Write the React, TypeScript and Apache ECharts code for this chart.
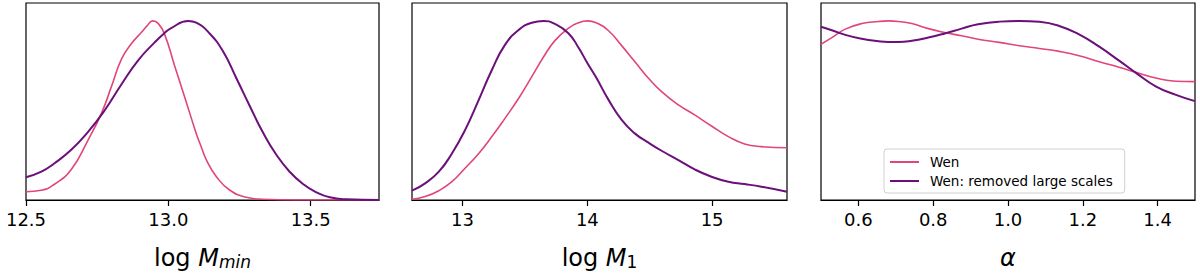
import React, { useEffect, useRef } from "react";
import * as echarts from "echarts";

// ---------- data ----------
const seriesNames = ["Wen", "Wen: removed large scales"];

// Panel 1: log M_min
const mminWenX = [12.5, 12.554, 12.6, 12.659, 12.718, 12.765, 12.8, 12.835, 12.87, 12.905, 12.925, 12.945, 12.965, 12.987, 13.022, 13.057, 13.098, 13.116, 13.134, 13.169, 13.215, 13.274, 13.33, 13.45, 13.74];
const mminWenY = [0.046, 0.054, 0.088, 0.17, 0.335, 0.484, 0.633, 0.785, 0.872, 0.935, 0.972, 1.0, 0.985, 0.925, 0.75, 0.577, 0.372, 0.295, 0.223, 0.13, 0.056, 0.015, 0.004, 0, 0];
const mminRemX = [12.5, 12.554, 12.6, 12.659, 12.718, 12.776, 12.835, 12.894, 12.952, 12.985, 13.01, 13.07, 13.098, 13.145, 13.192, 13.239, 13.286, 13.333, 13.38, 13.426, 13.473, 13.52, 13.567, 13.625, 13.74];
const mminRemY = [0.127, 0.158, 0.205, 0.28, 0.38, 0.5, 0.645, 0.78, 0.88, 0.93, 0.96, 1.0, 0.99, 0.93, 0.83, 0.68, 0.525, 0.375, 0.251, 0.158, 0.089, 0.043, 0.015, 0.004, 0];
const mminTicks = [12.5, 13.0, 13.5];

// Panel 2: log M_1
const m1X = [12.595, 12.7, 12.81, 12.915, 13.02, 13.13, 13.235, 13.34, 13.45, 13.555, 13.65, 13.74, 13.85, 13.93, 14.0, 14.07, 14.17, 14.275, 14.38, 14.49, 14.595, 14.73, 14.86, 14.995, 15.13, 15.26, 15.395, 15.6];
const m1WenY = [0.004, 0.019, 0.052, 0.102, 0.177, 0.26, 0.354, 0.456, 0.568, 0.689, 0.8, 0.89, 0.96, 0.99, 1.0, 0.99, 0.945, 0.862, 0.773, 0.68, 0.605, 0.531, 0.475, 0.413, 0.354, 0.313, 0.298, 0.292];
const m1RemY = [0.052, 0.093, 0.158, 0.26, 0.39, 0.559, 0.726, 0.866, 0.95, 0.99, 1.0, 0.983, 0.93, 0.85, 0.765, 0.685, 0.559, 0.447, 0.372, 0.32, 0.275, 0.223, 0.171, 0.13, 0.102, 0.089, 0.074, 0.046];
const m1Ticks = [13, 14, 15];

// Panel 3: alpha
const alphaX = [0.5, 0.529, 0.565, 0.609, 0.654, 0.68, 0.707, 0.743, 0.787, 0.831, 0.876, 0.92, 0.977, 1.031, 1.084, 1.137, 1.19, 1.244, 1.297, 1.342, 1.395, 1.449, 1.5];
const alphaWenY = [0.87, 0.907, 0.954, 0.985, 0.997, 1.0, 0.997, 0.985, 0.957, 0.935, 0.917, 0.898, 0.88, 0.861, 0.846, 0.83, 0.806, 0.772, 0.741, 0.713, 0.681, 0.663, 0.661];
const alphaRemY = [0.967, 0.948, 0.922, 0.9, 0.886, 0.882, 0.882, 0.889, 0.907, 0.93, 0.957, 0.981, 0.996, 1.0, 0.995, 0.972, 0.925, 0.856, 0.778, 0.71, 0.635, 0.587, 0.552];
const alphaTicks = [0.6, 0.8, 1.0, 1.2, 1.4];

// ---------- styling ----------
const PINK = "#e0457b";
const PURPLE = "#6b0f7a";
const FONT = "DejaVu Sans";

const zip = (xs: number[], ys: number[]) => xs.map((x, i) => [x, ys[i]]);

export default function App() {
  const ref = useRef<HTMLDivElement>(null);

  useEffect(() => {
    if (!ref.current) return;
    const chart = echarts.init(ref.current, undefined, { renderer: "svg" });

    const grids = [
      { left: 26, top: 3, width: 353, height: 197 },
      { left: 412, top: 3, width: 375, height: 197 },
      { left: 821, top: 3, width: 374, height: 197 },
    ].map((g) => ({
      ...g,
      show: true,
      borderColor: "#000",
      borderWidth: 1.2,
      backgroundColor: "transparent",
      containLabel: false,
    }));

    const xRanges = [
      { min: 12.5, max: 13.74, ticks: mminTicks, dec: 1 },
      { min: 12.595, max: 15.6, ticks: m1Ticks, dec: 0 },
      { min: 0.5, max: 1.5, ticks: alphaTicks, dec: 1 },
    ];

    const xAxes = xRanges.map((r, i) => ({
      type: "value",
      gridIndex: i,
      min: r.min,
      max: r.max,
      axisLine: { show: true, lineStyle: { color: "#000", width: 1.2 } },
      axisTick: {
        show: true,
        inside: false,
        length: 6,
        lineStyle: { color: "#000", width: 1.2 },
        customValues: r.ticks,
      },
      axisLabel: {
        show: true,
        margin: 10,
        fontSize: 18,
        fontFamily: FONT,
        color: "#000",
        customValues: r.ticks,
        formatter: (v: number) => v.toFixed(r.dec),
      },
      splitLine: { show: false },
    }));

    const yAxes = [0, 1, 2].map((i) => ({
      type: "value",
      gridIndex: i,
      min: 0,
      max: 1.1,
      show: false,
      splitLine: { show: false },
    }));

    const mk = (name: string, data: number[][], idx: number, color: string, width: number) => ({
      type: "line",
      name,
      xAxisIndex: idx,
      yAxisIndex: idx,
      data,
      showSymbol: false,
      symbol: "none",
      smooth: 0.5,
      lineStyle: { color, width },
      itemStyle: { color },
      silent: true,
    });

    const series = [
      mk(seriesNames[0], zip(mminWenX, mminWenY), 0, PINK, 1.6),
      mk(seriesNames[1], zip(mminRemX, mminRemY), 0, PURPLE, 2),
      mk(seriesNames[0], zip(m1X, m1WenY), 1, PINK, 1.6),
      mk(seriesNames[1], zip(m1X, m1RemY), 1, PURPLE, 2),
      mk(seriesNames[0], zip(alphaX, alphaWenY), 2, PINK, 1.6),
      mk(seriesNames[1], zip(alphaX, alphaRemY), 2, PURPLE, 2),
    ];

    const titleRich = {
      u: { fontSize: 24, fontFamily: FONT, color: "#000" },
      i: { fontSize: 24, fontFamily: FONT, fontStyle: "italic", color: "#000" },
      s: { fontSize: 17, fontFamily: FONT, fontStyle: "italic", color: "#000", verticalAlign: "bottom", padding: [8, 0, 0, 0] },
      n: { fontSize: 17, fontFamily: FONT, color: "#000", verticalAlign: "bottom", padding: [8, 0, 0, 0] },
    };

    const title = (x: number, text: string) => ({
      type: "text",
      x,
      y: 258,
      silent: true,
      style: {
        text,
        rich: titleRich,
        align: "center",
        verticalAlign: "middle",
        fontFamily: FONT,
        fontSize: 24,
      },
    });

    chart.setOption({
      animation: false,
      backgroundColor: "#fff",
      grid: grids,
      xAxis: xAxes,
      yAxis: yAxes,
      series,
      legend: {
        show: true,
        data: seriesNames,
        orient: "vertical",
        left: 884,
        top: 149,
        icon: "rect",
        itemWidth: 29,
        itemHeight: 2,
        itemGap: 5,
        padding: [6, 12, 5, 6],
        backgroundColor: "#fff",
        borderColor: "#d0d0d0",
        borderWidth: 1,
        borderRadius: 3,
        selectedMode: false,
        textStyle: { fontFamily: FONT, fontSize: 13.5, color: "#000", padding: [0, 0, 0, 6] },
      },
      graphic: [
        title(202.5, "{u|log }{i|M}{s|min}"),
        title(599.5, "{u|log }{i|M}{n|1}"),
        title(1008, "{i|α}"),
      ],
    });

    return () => chart.dispose();
  }, []);

  return (
    <div
      ref={ref}
      style={{ position: "absolute", left: 0, top: 0, width: 1200, height: 280, background: "#fff" }}
    />
  );
}
